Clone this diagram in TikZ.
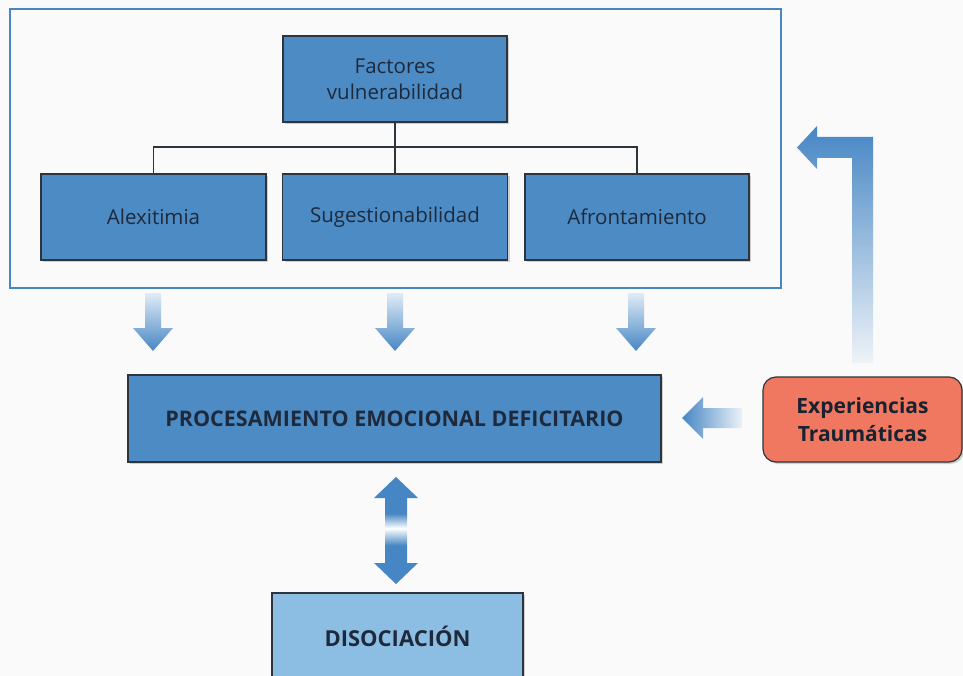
\documentclass[tikz,border=0pt]{standalone}
\usepackage{fontspec}
\setmainfont{Open Sans}
\usetikzlibrary{shadows}

\definecolor{paper}{RGB}{250,250,250}
\definecolor{boxblue}{RGB}{76,139,196}
\definecolor{lightbox}{RGB}{140,190,228}
\definecolor{framecol}{RGB}{72,134,194}
\definecolor{inkdark}{RGB}{30,42,60}
\definecolor{edgedark}{RGB}{45,52,60}
\definecolor{salmon}{RGB}{240,120,96}
\definecolor{arrowblue}{RGB}{70,134,196}
\definecolor{arrowfade}{RGB}{225,236,246}

% blue with a narrow light band across the middle
\pgfdeclareverticalshading{twoway}{100bp}{%
  color(0bp)=(arrowblue); color(43bp)=(arrowblue); color(51bp)=(white);
  color(58bp)=(arrowblue); color(100bp)=(arrowblue)}

% vertical block arrow pointing down, centred on x = #1
\newcommand\blockdown[1]{%
  \shade[top color=arrowfade, bottom color=arrowblue]
    (#1-8,-293) -- (#1+8,-293) -- (#1+8,-328) -- (#1+20,-328)
    -- (#1,-351) -- (#1-20,-328) -- (#1-8,-328) -- cycle;}

\begin{document}
\begin{tikzpicture}[x=1pt,y=1pt,
  font=\fontsize{20.5}{26}\selectfont,
  box/.style={draw=edgedark, line width=1.2pt, fill=boxblue, text=inkdark,
    align=center, inner sep=0pt,
    drop shadow={opacity=0.35, shadow xshift=2pt, shadow yshift=-2pt}},
  tree/.style={draw=edgedark, line width=1.4pt}]

\useasboundingbox (0,0) rectangle (963,-676);
\fill[paper] (0,0) rectangle (963,-676);
\clip (0,0) rectangle (963,-676);

% grouping frame around the vulnerability factors
\draw[framecol, line width=2pt] (10,-9) rectangle (781,-288);

\node[box, minimum width=224pt, minimum height=86pt] (fact) at (395,-79)
  {Factores\\vulnerabilidad};
\node[box, minimum width=225pt, minimum height=86pt] (alex) at (153.5,-217) {Alexitimia};
\node[box, minimum width=225pt, minimum height=86pt] (sug) at (395,-217) {Sugestionabilidad};
\node[box, minimum width=224pt, minimum height=86pt] (afr) at (637,-217) {Afrontamiento};

\coordinate (bus) at (395,-147);
\draw[tree] (fact.south) -- (bus);
\draw[tree] (bus) -| (alex.north);
\draw[tree] (bus) -| (afr.north);
\draw[tree] (bus) -- (sug.north);

\node[box, minimum width=533pt, minimum height=87pt,
  font=\fontsize{21.5}{24}\selectfont\bfseries] (proc) at (394.5,-418.5)
  {PROCESAMIENTO EMOCIONAL DEFICITARIO};

\node[box, fill=salmon, rounded corners=13pt, minimum width=199pt, minimum height=85pt,
  font=\fontsize{21}{28}\selectfont\bfseries, text=inkdark!80!black] (exp) at (862.5,-419.5)
  {Experiencias\\Traumáticas};

\node[box, fill=lightbox, minimum width=251pt, minimum height=87pt,
  font=\fontsize{22}{26}\selectfont\bfseries] (dis) at (397.5,-636.5)
  {DISOCIACIÓN};

% factors feed the deficient processing
\blockdown{153}
\blockdown{395}
\blockdown{636}

% traumatic experiences act on the processing
\shade[left color=arrowblue, right color=arrowfade!60!paper]
  (682,-418) -- (703,-397) -- (703,-408) -- (742,-408)
  -- (742,-428) -- (703,-428) -- (703,-439) -- cycle;

% and feed back into the vulnerability factors
\shade[top color=arrowblue, bottom color=arrowfade!50!paper]
  (852,-363) -- (852,-158) -- (817,-158) -- (817,-169) -- (797,-147.5)
  -- (817,-126) -- (817,-137) -- (873,-137) -- (873,-363) -- cycle;

% two-way link between processing and dissociation
\shade[shading=twoway]
  (396,-477) -- (418,-498) -- (407,-498) -- (407,-563) -- (418,-563)
  -- (396,-584) -- (374,-563) -- (385,-563) -- (385,-498) -- (374,-498) -- cycle;

\end{tikzpicture}
\end{document}
